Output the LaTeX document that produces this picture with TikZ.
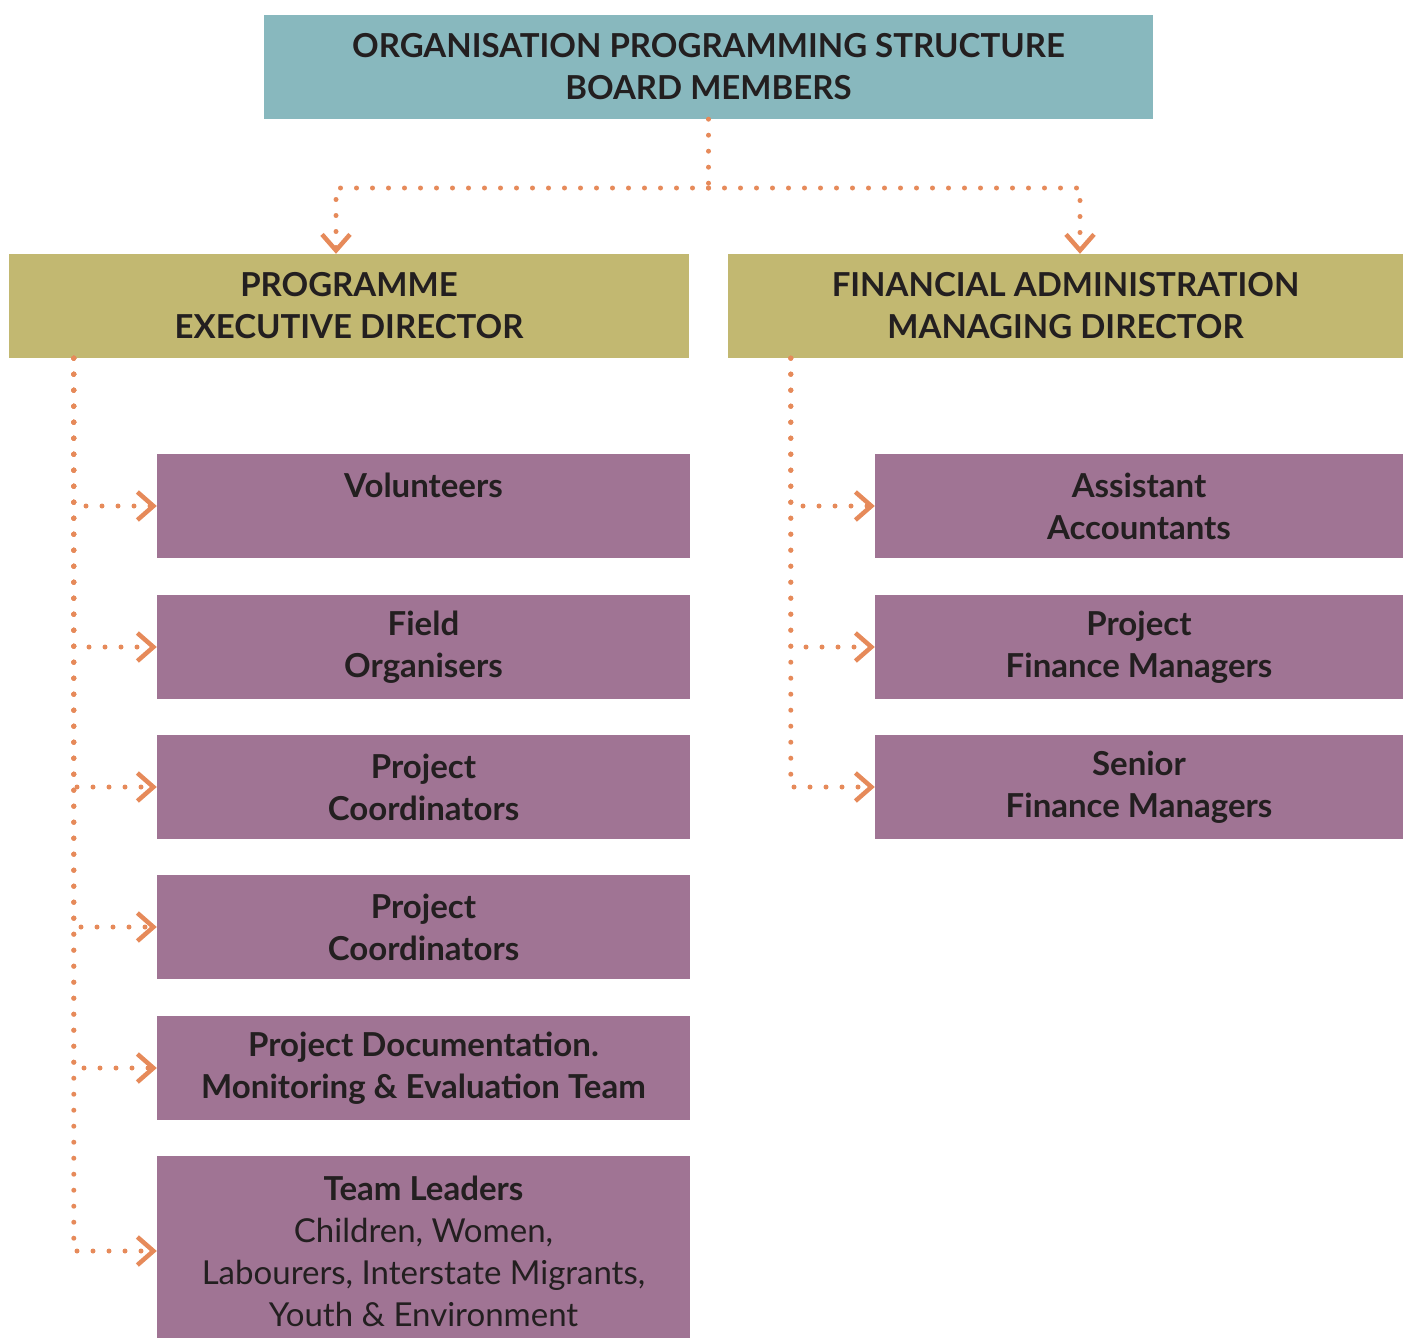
\documentclass[tikz,border=0pt]{standalone}
\usepackage{fontspec}
\setmainfont{Lato}
\usetikzlibrary{arrows.meta}
\definecolor{boardteal}{HTML}{88B8BE}
\definecolor{directorolive}{HTML}{C2B871}
\definecolor{teammauve}{HTML}{A07494}
\definecolor{linkorange}{HTML}{E68A5A}
\definecolor{inkgrey}{HTML}{231F20}

\begin{document}
\begin{tikzpicture}[x=1pt, y=-1pt,
		every node/.style={font=\fontsize{33pt}{42pt}\selectfont\bfseries, text=inkgrey, align=center, inner sep=0pt},
		board/.style={fill=boardteal, minimum width=889pt, minimum height=104pt},
		director/.style={fill=directorolive, minimum height=104pt},
		pteam/.style={fill=teammauve, minimum width=533pt, minimum height=104pt},
		fteam/.style={fill=teammauve, minimum width=528pt, minimum height=104pt},
		spine/.style={linkorange, line width=5pt, line cap=round, dash pattern=on 0pt off 16pt},
		link/.style={spine, -{Straight Barb[length=16pt, width=28pt, line width=4.5pt]}}]
		\useasboundingbox (0,0) rectangle (1403,1338);

		% Board
		\node[board] (board) at (708.5,67) {ORGANISATION PROGRAMMING STRUCTURE\\BOARD MEMBERS};

		% Directors
		\node[director, minimum width=680pt] (ped) at (349,306) {PROGRAMME\\EXECUTIVE DIRECTOR};
		\node[director, minimum width=675pt] (fad) at (1065.5,306) {FINANCIAL ADMINISTRATION\\MANAGING DIRECTOR};

		% Programme teams
		\node[pteam] (vol) at (423.5,506) {Volunteers\\\phantom{V}};
		\node[pteam] (fo) at (423.5,647) {Field\\Organisers};
		\node[pteam] (pc1) at (423.5,787) {Project\\Coordinators};
		\node[pteam] (pc2) at (423.5,927) {Project\\Coordinators};
		\node[pteam] (pdm) at (423.5,1068) {Project Documentation.\\Monitoring \& Evaluation Team};
		\node[pteam, minimum height=190pt] (tl) at (423.5,1251) {Team Leaders\\\mdseries Children, Women,\\\mdseries Labourers, Interstate Migrants,\\\mdseries Youth \& Environment};

		% Finance teams
		\node[fteam] (aa) at (1139,506) {Assistant\\Accountants};
		\node[fteam] (pfm) at (1139,647) {Project\\Finance Managers};
		\node[fteam] (sfm) at (1139,787) {Senior\\Finance Managers};

		% Board to directors
		\coordinate (split) at (708.5,188);
		\draw[spine] (board.south) -- (split);
		\draw[link] (split) -| ([xshift=-13pt]ped.north);
		\draw[link] (split) -| ([xshift=14.5pt]fad.north);

		% Directors to teams
		\coordinate (lspine) at ([xshift=65pt]ped.south west);
		\coordinate (rspine) at ([xshift=63pt]fad.south west);
		\foreach \t in {vol,fo,pc1,pc2,pdm,tl}
			\draw[link] (lspine) |- (\t.west);
		\foreach \t in {aa,pfm,sfm}
			\draw[link] (rspine) |- (\t.west);
	\end{tikzpicture}
\end{document}
